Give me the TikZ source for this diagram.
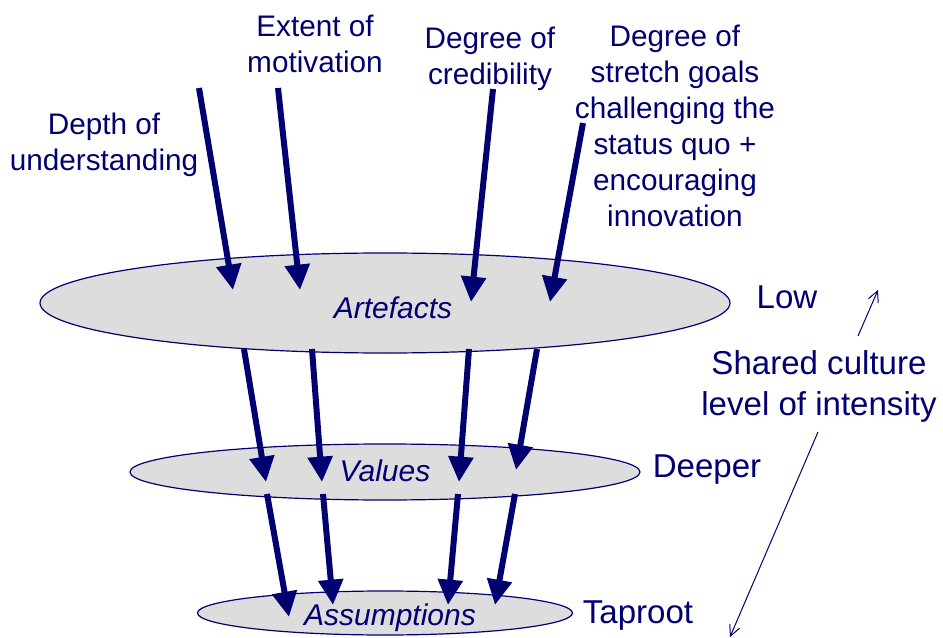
\documentclass[tikz,border=0pt]{standalone}
\usepackage{fontspec}
\setmainfont{Liberation Sans}
\usetikzlibrary{shapes.geometric,arrows.meta}
\definecolor{navy}{RGB}{0,0,112}
\definecolor{layergray}{RGB}{221,221,221}
\tikzset{
  layer/.style={ellipse, draw=navy, line width=0.9pt, fill=layergray, inner sep=0pt},
  bigarrow/.style={draw=navy, line width=4.5pt, -{Triangle[length=19pt,width=18pt]}},
  thinarrow/.style={draw=navy, line width=0.75pt, -{Straight Barb[length=8pt,width=8pt]}},
  toplbl/.style={text=navy, align=center, inner sep=0pt, font=\fontsize{22.3pt}{27pt}\selectfont},
  sidelbl/.style={text=navy, align=center, inner sep=0pt, font=\fontsize{24.8pt}{30.75pt}\selectfont},
  lvl/.style={text=navy, inner sep=0pt, font=\fontsize{22.5pt}{27pt}\selectfont\itshape}
}
\begin{document}
\begin{tikzpicture}[x=0.75pt,y=-0.75pt]
\useasboundingbox (0,0) rectangle (943,638);
% layers
\node[layer, minimum width=517.5pt, minimum height=75pt] (art) at (385,303) {};
\node[layer, minimum width=382.5pt, minimum height=42pt] (val) at (385,472) {};
\node[layer, minimum width=281.25pt, minimum height=33pt] (ass) at (385,613) {};
\node[lvl] (artT) at (393,308) {Artefacts};
\node[lvl] (valT) at (385,471) {Values};
\node[lvl] (assT) at (390,618) {Assumptions};
% top labels
\node[toplbl] (depth) at (104,145) {Depth of\\understanding};
\node[toplbl] (extent) at (315,44) {Extent of\\motivation};
\node[toplbl] (cred) at (490,59) {Degree of\\credibility};
\node[toplbl] (stretch) at (675,126) {Degree of\\stretch goals\\challenging the\\status quo +\\encouraging\\innovation};
% side labels
\node[sidelbl] (low) at (787,297) {Low};
\node[sidelbl] (deeper) at (707,470) {Deeper};
\node[sidelbl] (tap) at (638,616) {Taproot};
\node[sidelbl] (shared) at (819,386) {Shared culture\\level of intensity};
% arrow coordinates
\coordinate (s1) at (199,88);  \coordinate (t1) at (233,290);
\coordinate (s2) at (278,88);  \coordinate (t2) at (300,290);
\coordinate (s3) at (493,89);  \coordinate (t3) at (471,302);
\coordinate (s4) at (583,123); \coordinate (t4) at (550,302);
\coordinate (s5) at (244,349); \coordinate (t5) at (266,482);
\coordinate (s6) at (312,349); \coordinate (t6) at (322,482);
\coordinate (s7) at (469,349); \coordinate (t7) at (459,482);
\coordinate (s8) at (537,349); \coordinate (t8) at (516,470);
\coordinate (s9) at (267,494); \coordinate (t9) at (289,617);
\coordinate (s10) at (323,494); \coordinate (t10) at (333,605);
\coordinate (s11) at (458,494); \coordinate (t11) at (448,605);
\coordinate (s12) at (515,494); \coordinate (t12) at (495,605);
\foreach \i in {1,...,12} {\draw[bigarrow] (s\i) -- (t\i);}
% intensity arrows
\coordinate (u0) at (858,336); \coordinate (u1) at (878,290);
\coordinate (d0) at (818,432); \coordinate (d1) at (730,637);
\draw[thinarrow] (u0) -- (u1);
\draw[thinarrow] (d0) -- (d1);
\end{tikzpicture}
\end{document}
